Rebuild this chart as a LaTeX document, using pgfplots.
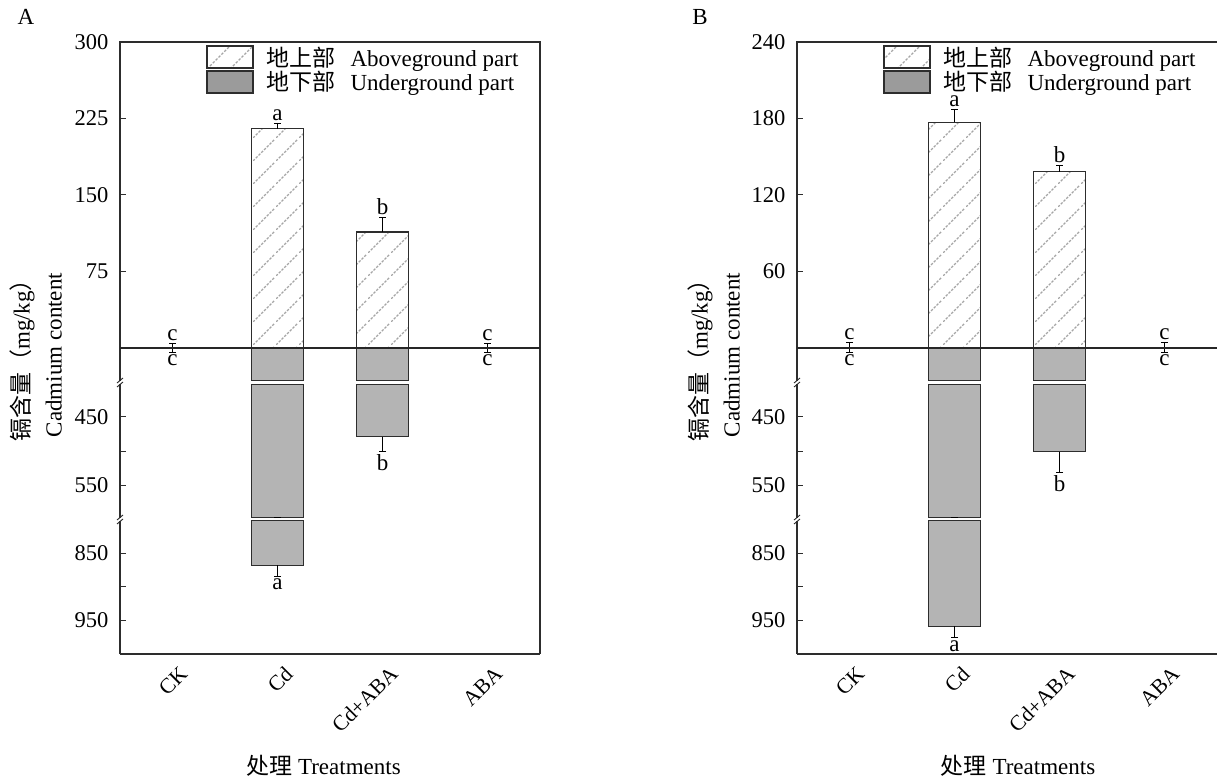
\documentclass[border=0pt]{standalone}
\usepackage{pgfplots}
\pgfplotsset{compat=1.18}
\usetikzlibrary{patterns.meta}
\usepackage{fontspec}
\setmainfont{Liberation Serif}
\newfontfamily\cjk{Noto Sans CJK SC}
\newcommand\fs{\fontsize{23}{27}\selectfont}
\newcommand\tfs{\fontsize{22.5}{27}\selectfont}
\newcommand\xfs{\fontsize{21.5}{25}\selectfont}
\definecolor{framec}{RGB}{45,45,45}
\definecolor{bargray}{RGB}{180,180,180}
\definecolor{leggray}{RGB}{155,155,155}
\definecolor{hatchc}{RGB}{165,165,165}

\tikzdeclarepattern{
  name=hatch,
  type=colored,
  bottom left={(0pt,0pt)},
  top right={(23pt,23pt)},
  tile size={(23pt,23pt)},
  code={
    \draw[hatchc, line width=1.4pt, dash pattern=on 2.6pt off 1.466pt] (0pt,0pt) -- (23pt,23pt);
  }
}

\pgfplotsset{
  base/.style={
    scale only axis, width=420pt, xmin=0.5, xmax=4.5,
    axis line style={draw=none},
    tick align=inside, major tick length=6pt, ytick pos=left,
    xtick=\empty, clip=false,
    tick style={framec, line width=1pt},
    tick label style={font=\tfs},
    yticklabel style={xshift=-8pt},
    ybar, bar width=0.49, bar shift=0pt,
  },
  err/.style={
    error bars/y dir=plus, error bars/y explicit,
    error bars/error bar style={black, line width=0.9pt},
    error bars/error mark options={rotate=90, mark size=3.5pt, line width=0.9pt, black},
  },
  above/.style={draw=framec, line width=1.2pt, pattern=hatch},
  under/.style={draw=framec, line width=1.2pt, fill=bargray},
  leg/.style={
    legend style={at={(rel axis cs:0.205,0.992)}, anchor=north west, draw=none, fill=none, inner sep=0pt, font=\fs, row sep=0pt},
    legend cell align=left},
  xlab/.style={
    xtick={1,2,3,4}, xticklabels={CK,Cd,Cd+ABA,ABA}, xtick style={draw=none},
    xticklabel style={font=\xfs, xshift=6pt, yshift=0pt, rotate=45, anchor=north east}},
}
\tikzset{lab/.style={font=\fs, inner sep=2.5pt}}

\begin{document}
\begin{tikzpicture}
\useasboundingbox (0pt,0pt) rectangle (1217pt,782pt);

% ================= Panel A =================
% upper: aboveground
\begin{axis}[base, leg, at={(120pt,434pt)}, anchor=south west, height=306pt,
  ymin=0, ymax=300, ytick={0,75,150,225,300}, yticklabels={,75,150,225,300}]
\addlegendimage{legend image code/.code={\draw[pattern=hatch, draw=framec, line width=1.2pt] (0pt,-11pt) rectangle (46pt,11pt);}}
\addlegendentry{\hspace{11pt}{\cjk 地上部}\hspace{15pt}Aboveground part}
\addlegendimage{legend image code/.code={\draw[fill=leggray, draw=framec, line width=1.2pt] (0pt,-11pt) rectangle (46pt,11pt);}}
\addlegendentry{\hspace{11pt}{\cjk 地下部}\hspace{15pt}Underground part}
\addplot[above, err, forget plot] coordinates {(1,0.5) +- (0,3.5) (2,215) +- (0,5.6) (3,113.7) +- (0,14.7) (4,0.5) +- (0,3.5)};
\node[lab, anchor=south] at (axis cs:1,4) {c};
\node[lab, anchor=south] at (axis cs:2,220.6) {a};
\node[lab, anchor=south] at (axis cs:3,128.4) {b};
\node[lab, anchor=south] at (axis cs:4,4) {c};
\end{axis}
% lower seg1: 0-50
\begin{axis}[base, at={(120pt,399.5pt)}, anchor=south west, height=34.5pt,
  y dir=reverse, ymin=0, ymax=50, ytick=\empty]
\addplot[under, y filter/.expression={min(y,47)}] coordinates {(2,868) (3,479)};
\addplot[under, err] coordinates {(1,0.5) +- (0,5.5) (4,0.5) +- (0,5.5)};
\node[lab, anchor=north] at (axis cs:1,6) {c};
\node[lab, anchor=north] at (axis cs:4,6) {c};
\end{axis}
% lower seg2: 400-600
\begin{axis}[base, at={(120pt,262.5pt)}, anchor=south west, height=137pt,
  y dir=reverse, ymin=400, ymax=600, ytick={450,500,550}, yticklabels={450,,550},
  ybar stacked, bar shift=0pt]
\addplot[draw=none, fill=none] coordinates {(2,403) (3,403)};
\addplot[under, err, y filter/.expression={min(y,597)-403}] coordinates {(2,868) +- (0,0) (3,479) +- (0,22)};
\node[lab, anchor=north] at (axis cs:3,501) {b};
\end{axis}
% lower seg3: 800-1000
\begin{axis}[base, xlab, at={(120pt,128pt)}, anchor=south west, height=134.5pt,
  y dir=reverse, ymin=800, ymax=1000, ytick={850,900,950,1000}, yticklabels={850,,950,},
  ybar stacked, bar shift=0pt]
\addplot[draw=none, fill=none] coordinates {(2,802)};
\addplot[under, err, y filter/.expression={min(y,998)-802}] coordinates {(2,868) +- (0,16)};
\node[lab, anchor=north] at (axis cs:2,884) {a};
\end{axis}

% ================= Panel B =================
\begin{axis}[base, leg, at={(797pt,434pt)}, anchor=south west, height=306pt,
  ymin=0, ymax=240, ytick={0,60,120,180,240}, yticklabels={,60,120,180,240}]
\addlegendimage{legend image code/.code={\draw[pattern=hatch, draw=framec, line width=1.2pt] (0pt,-11pt) rectangle (46pt,11pt);}}
\addlegendentry{\hspace{11pt}{\cjk 地上部}\hspace{15pt}Aboveground part}
\addlegendimage{legend image code/.code={\draw[fill=leggray, draw=framec, line width=1.2pt] (0pt,-11pt) rectangle (46pt,11pt);}}
\addlegendentry{\hspace{11pt}{\cjk 地下部}\hspace{15pt}Underground part}
\addplot[above, err, forget plot] coordinates {(1,0.5) +- (0,3.5) (2,177) +- (0,10) (3,138.3) +- (0,4.7) (4,0.5) +- (0,3.5)};
\node[lab, anchor=south] at (axis cs:1,4) {c};
\node[lab, anchor=south] at (axis cs:2,187) {a};
\node[lab, anchor=south] at (axis cs:3,143) {b};
\node[lab, anchor=south] at (axis cs:4,4) {c};
\end{axis}
\begin{axis}[base, at={(797pt,399.5pt)}, anchor=south west, height=34.5pt,
  y dir=reverse, ymin=0, ymax=50, ytick={0}, yticklabels={}]
\addplot[under, y filter/.expression={min(y,47)}] coordinates {(2,959) (3,501)};
\addplot[under, err] coordinates {(1,0.5) +- (0,5.5) (4,0.5) +- (0,5.5)};
\node[lab, anchor=north] at (axis cs:1,6) {c};
\node[lab, anchor=north] at (axis cs:4,6) {c};
\end{axis}
\begin{axis}[base, at={(797pt,262.5pt)}, anchor=south west, height=137pt,
  y dir=reverse, ymin=400, ymax=600, ytick={450,500,550}, yticklabels={450,,550},
  ybar stacked, bar shift=0pt]
\addplot[draw=none, fill=none] coordinates {(2,403) (3,403)};
\addplot[under, err, y filter/.expression={min(y,597)-403}] coordinates {(2,959) +- (0,0) (3,501) +- (0,31)};
\node[lab, anchor=north] at (axis cs:3,532) {b};
\end{axis}
\begin{axis}[base, xlab, at={(797pt,128pt)}, anchor=south west, height=134.5pt,
  y dir=reverse, ymin=800, ymax=1000, ytick={850,900,950,1000}, yticklabels={850,,950,},
  ybar stacked, bar shift=0pt]
\addplot[draw=none, fill=none] coordinates {(2,802)};
\addplot[under, err, y filter/.expression={min(y,998)-802}] coordinates {(2,959) +- (0,17)};
\node[lab, anchor=north] at (axis cs:2,976) {a};
\end{axis}

% ================= frames and decorations =================
\foreach \L/\R in {120/540, 797/1219} {
  \draw[framec, line width=1.1pt] (\L pt,128pt) -- (\L pt,740pt) -- (\R pt,740pt) -- (\R pt,128pt);
  \draw[framec, line width=1.6pt] (\L pt,128pt) -- (\R pt,128pt);
  \draw[black!85, line width=2.6pt] (\L pt,434pt) -- (\R pt,434pt);
  \foreach \yy in {399.5, 262.5} {
    \fill[white] (\L pt-2pt,\yy pt-1.6pt) rectangle (\L pt+2pt,\yy pt+1.6pt);
    \draw[framec, line width=0.9pt] (\L pt-3pt,\yy pt-4.5pt) -- (\L pt+3pt,\yy pt+0.5pt);
    \draw[framec, line width=0.9pt] (\L pt-3pt,\yy pt-0.5pt) -- (\L pt+3pt,\yy pt+4.5pt);
  }
}

% labels
\node[font=\fs] at (26pt,765pt) {A};
\node[font=\fs] at (700pt,765pt) {B};
\node[rotate=90, align=center, font=\fontsize{23}{32}\selectfont] at (36pt,427pt) {{\cjk 镉含量（}mg/kg{\cjk ）}\\Cadmium content};
\node[rotate=90, align=center, font=\fontsize{23}{32}\selectfont] at (714pt,427pt) {{\cjk 镉含量（}mg/kg{\cjk ）}\\Cadmium content};
\node[font=\fs] at (323.5pt,16pt) {{\cjk 处理} Treatments};
\node[font=\fs] at (1018pt,16pt) {{\cjk 处理} Treatments};
\end{tikzpicture}
\end{document}
